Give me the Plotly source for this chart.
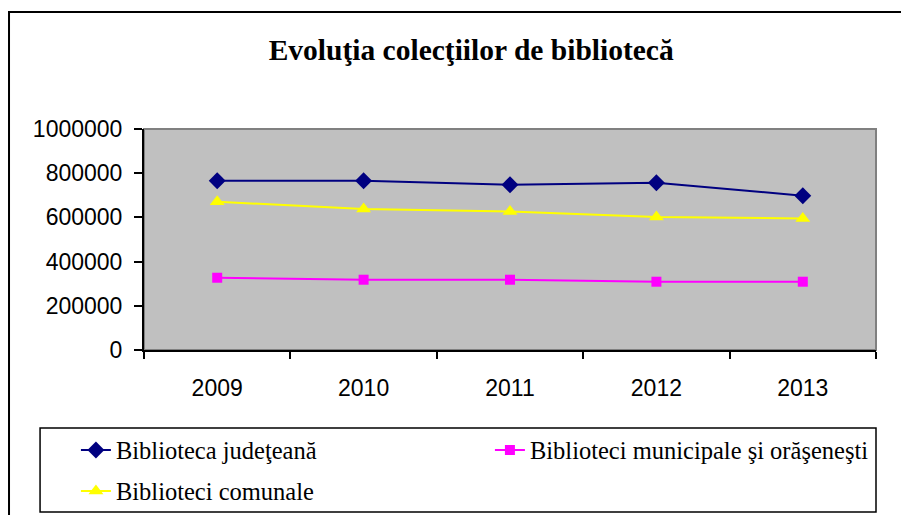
import plotly.graph_objects as go

years = ['2009', '2010', '2011', '2012', '2013']
judeteana = [766000, 766000, 748000, 757000, 698000]
municipale = [327000, 318000, 318000, 309000, 309000]
comunale = [671000, 638000, 627000, 602000, 595000]

fig = go.Figure()

fig.add_trace(go.Scatter(
    x=years, y=judeteana, name='Biblioteca judeţeană',
    mode='lines+markers',
    line=dict(color='#000080', width=2),
    marker=dict(symbol='diamond', size=13, color='#000080'),
    legend='legend'
))
fig.add_trace(go.Scatter(
    x=years, y=municipale, name='Biblioteci municipale şi orăşeneşti',
    mode='lines+markers',
    line=dict(color='#FF00FF', width=2),
    marker=dict(symbol='square', size=10, color='#FF00FF'),
    legend='legend'
))
fig.add_trace(go.Scatter(
    x=years, y=comunale, name='Biblioteci comunale',
    mode='lines+markers',
    line=dict(color='#FFFF00', width=2),
    marker=dict(symbol='triangle-up', size=13, color='#FFFF00'),
    legend='legend2'
))

# plot area border (grey top/right) and outer chart frame
fig.add_shape(type='rect', xref='paper', yref='paper', x0=0, x1=1, y0=0, y1=1,
              line=dict(color='#808080', width=2), layer='below')
fig.add_shape(type='rect', xref='paper', yref='paper',
              x0=-0.1844, x1=1.07, y0=-0.9, y1=1.529,
              line=dict(color='black', width=2))
# legend frame
fig.add_shape(type='rect', xref='paper', yref='paper',
              x0=-0.142, x1=1.0, y0=-0.733, y1=-0.353,
              line=dict(color='black', width=1.5))

legend_font = dict(family='Liberation Serif', size=24.5, color='black')

fig.update_layout(
    width=901, height=507,
    margin=dict(l=136, r=33, t=121, b=165, autoexpand=False),
    paper_bgcolor='white',
    plot_bgcolor='#C0C0C0',
    title=dict(text='<b>Evoluţia colecţiilor de bibliotecă</b>',
               x=0.447, xref='paper', xanchor='center',
               y=0.917, yanchor='middle',
               font=dict(family='Liberation Serif', size=29.5, color='black')),
    font=dict(family='Liberation Sans', size=23, color='black'),
    legend=dict(orientation='h', x=-0.093, y=-0.4525, xanchor='left', yanchor='middle',
                entrywidth=369, entrywidthmode='pixels',
                font=legend_font, bgcolor='rgba(0,0,0,0)'),
    legend2=dict(orientation='h', x=-0.093, y=-0.638, xanchor='left', yanchor='middle',
                 font=legend_font, bgcolor='rgba(0,0,0,0)'),
    showlegend=True,
)

fig.update_xaxes(
    type='category', range=[-0.5, 4.5], showgrid=False, zeroline=False,
    showline=True, linecolor='black', linewidth=2,
    ticks='outside', ticklen=7, tickcolor='black', tickwidth=2,
    tickson='boundaries', ticklabelstandoff=16,
)
fig.update_yaxes(
    range=[0, 1000000], dtick=200000, tickformat='d',
    showgrid=False, zeroline=False,
    showline=True, linecolor='black', linewidth=2,
    ticks='outside', ticklen=8, tickcolor='black', tickwidth=2,
    ticklabelstandoff=7,
)

fig.write_html("out.html")
